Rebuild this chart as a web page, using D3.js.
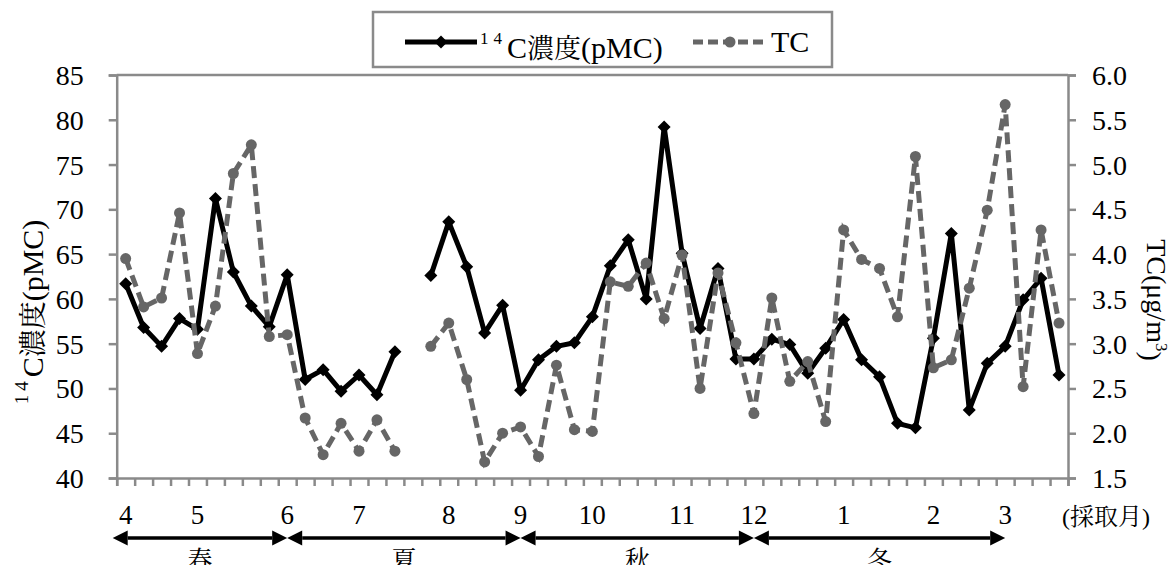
<!DOCTYPE html>
<html><head><meta charset="utf-8">
<script src="https://cdn.jsdelivr.net/npm/d3@7"></script>
<style>
body{margin:0;background:#fff;}
svg{display:block;}
text{font-family:"Liberation Serif","Noto Serif CJK JP","Noto Sans CJK JP",serif;fill:#000;}
</style></head>
<body>
<svg id="chart" width="1170" height="565"></svg>
<script>
// ---- data ----
const monthLabels = ["4","","","","5","","","","","6","","","","7","","","","","8","","","","9","","","","10","","","","","11","","","","12","","","","","1","","","","","2","","","","3","","",""];
const pmc = [61.7,56.8,54.7,57.8,56.6,71.2,63.0,59.2,56.9,62.7,51.0,52.1,49.7,51.5,49.3,54.1,null,62.6,68.6,63.6,56.2,59.3,49.8,53.2,54.7,55.1,58.0,63.7,66.6,60.0,79.2,65.1,56.7,63.4,53.3,53.3,55.5,54.9,51.7,54.5,57.7,53.2,51.3,46.1,45.6,55.6,67.3,47.6,52.8,54.7,59.9,62.3,51.5];
const tc = [3.95,3.41,3.51,4.46,2.89,3.42,4.90,5.22,3.08,3.10,2.17,1.76,2.11,1.80,2.15,1.80,null,2.97,3.23,2.60,1.68,2.00,2.07,1.74,2.76,2.04,2.02,3.69,3.64,3.90,3.28,3.99,2.50,3.79,3.01,2.22,3.51,2.58,2.80,2.13,4.27,3.94,3.84,3.30,5.09,2.73,2.82,3.62,4.49,5.67,2.52,4.27,3.23];
const leftTicks = [40,45,50,55,60,65,70,75,80,85];
const rightTicks = [1.5,2.0,2.5,3.0,3.5,4.0,4.5,5.0,5.5,6.0];
const seasons = ["春","夏","秋","冬"];
const seasonBounds = [0,9,22,35,49];

// ---- layout ----
const L = 116.7, R = 1068, T = 75, B = 478;
const svg = d3.select("#chart");
const idx = d3.range(monthLabels.length);
const x = d3.scaleBand().domain(idx).range([L, R]).padding(0);
const xc = i => x(i) + x.bandwidth()/2;
const xl = d3.scaleLinear().domain([0, monthLabels.length]).range([L, R]);
const yL = d3.scaleLinear().domain([40,85]).range([B, T]);
const yR = d3.scaleLinear().domain([1.5,6.0]).range([B, T]);
const axisColor = "#8a8a8a";

// frame top line
svg.append("line").attr("x1",L).attr("x2",R).attr("y1",T).attr("y2",T)
  .attr("stroke",axisColor).attr("stroke-width",2.5);

// left axis
const gL = svg.append("g").attr("transform",`translate(${L},0)`)
  .call(d3.axisLeft(yL).tickValues(leftTicks).tickSize(8).tickFormat(d3.format("d")));
// right axis
const gR = svg.append("g").attr("transform",`translate(${R},0)`)
  .call(d3.axisRight(yR).tickValues(rightTicks).tickSize(8).tickFormat(d3.format(".1f")));
// bottom tick marks (category boundaries)
const gB = svg.append("g").attr("transform",`translate(0,${B})`)
  .call(d3.axisBottom(xl).tickValues(d3.range(monthLabels.length+1)).tickSize(8).tickFormat(""));
// bottom labels
const gBL = svg.append("g").attr("transform",`translate(0,${B})`)
  .call(d3.axisBottom(x).tickSize(0).tickFormat(i => monthLabels[i]));
gBL.select(".domain").remove();

[gL,gR,gB].forEach(g=>{
  g.select(".domain").attr("stroke",axisColor).attr("stroke-width",2.5);
  g.selectAll(".tick line").attr("stroke",axisColor).attr("stroke-width",2.5);
});
gL.selectAll(".tick text").attr("x",-33).attr("dy","0.34em").style("font-size","28px")
  .style("font-family",'"Liberation Serif",serif');
gR.selectAll(".tick text").attr("x",24).attr("dy","0.34em").style("font-size","28px")
  .style("font-family",'"Liberation Serif",serif');
gBL.selectAll(".tick text").attr("y",46).attr("dy",0).style("font-size","27px")
  .style("font-family",'"Liberation Serif",serif');

svg.append("text").attr("x",1062).attr("y",525).style("font-size","24px").text("(採取月)");

// season arrows
const arrowY = 538;
const ah = 15, aw = 7.5;
const sx = i => i===0 ? L-4 : xc(seasonBounds[i]);
const ga = svg.append("g");
for (let s=0; s<seasons.length; s++){
  const x0 = sx(s), x1 = xc(seasonBounds[s+1]);
  ga.append("line").attr("x1",x0+ah).attr("x2",x1-ah).attr("y1",arrowY).attr("y2",arrowY)
    .attr("stroke","#000").attr("stroke-width",3.5);
  ga.append("path").attr("d",`M${x0},${arrowY}L${x0+ah},${arrowY-aw}L${x0+ah},${arrowY+aw}Z`).attr("fill","#000");
  ga.append("path").attr("d",`M${x1},${arrowY}L${x1-ah},${arrowY-aw}L${x1-ah},${arrowY+aw}Z`).attr("fill","#000");
  ga.append("text").attr("x",(x0+x1)/2).attr("y",569).attr("text-anchor","middle")
    .style("font-size","25px").text(seasons[s]);
}

// lines
const lineL = d3.line().defined(d=>d.v!=null).x(d=>xc(d.i)).y(d=>yL(d.v));
const lineR = d3.line().defined(d=>d.v!=null).x(d=>xc(d.i)).y(d=>yR(d.v));
const pd = pmc.map((v,i)=>({i,v}));
const td = tc.map((v,i)=>({i,v}));

svg.append("path").datum(pd).attr("d",lineL).attr("fill","none")
  .attr("stroke","#000").attr("stroke-width",5).attr("stroke-linejoin","round");
const dia = 6.5;
svg.append("g").selectAll("path").data(pd.filter(d=>d.v!=null)).join("path")
  .attr("d",d=>{const cx=xc(d.i), cy=yL(d.v); return `M${cx},${cy-dia}L${cx+dia},${cy}L${cx},${cy+dia}L${cx-dia},${cy}Z`;})
  .attr("fill","#000");

svg.append("path").datum(td).attr("d",lineR).attr("fill","none")
  .attr("stroke","#666").attr("stroke-width",5).attr("stroke-dasharray","12,6");
svg.append("g").selectAll("circle").data(td.filter(d=>d.v!=null)).join("circle")
  .attr("cx",d=>xc(d.i)).attr("cy",d=>yR(d.v)).attr("r",5.5).attr("fill","#666");

// axis titles
const tL = svg.append("text").attr("transform","translate(37,312) rotate(-90)")
  .attr("text-anchor","middle").style("font-size","30px");
tL.append("tspan").attr("dy","-0.5em").style("font-size","19px").style("letter-spacing","4px").text("14");
tL.append("tspan").attr("dy","0.5em").text("C");
tL.append("tspan").style("font-size","28px").text("濃度");
tL.append("tspan").text("(pMC)");

const tR = svg.append("text").attr("transform","translate(1147,300) rotate(90)")
  .attr("text-anchor","middle").style("font-size","28px");
tR.append("tspan").text("TC(μg/m");
tR.append("tspan").attr("dy","-0.5em").style("font-size","17px").text("3");
tR.append("tspan").attr("dy","0.5em").text(")");

// legend
svg.append("rect").attr("x",373).attr("y",12).attr("width",459).attr("height",55)
  .attr("fill","#fff").attr("stroke",axisColor).attr("stroke-width",2.5);
svg.append("line").attr("x1",405).attr("x2",477).attr("y1",42).attr("y2",42)
  .attr("stroke","#000").attr("stroke-width",5);
svg.append("path").attr("d",`M441,${42-dia}L${441+dia},42L441,${42+dia}L${441-dia},42Z`).attr("fill","#000");
const lt = svg.append("text").attr("x",480).attr("y",52).style("font-size","30px");
lt.append("tspan").attr("dy","-0.45em").style("font-size","17px").style("letter-spacing","5px").text("14");
lt.append("tspan").attr("dy","0.45em").text("C");
lt.append("tspan").style("font-size","27px").text("濃度");
lt.append("tspan").text("(pMC)");
svg.append("line").attr("x1",693).attr("x2",767).attr("y1",42).attr("y2",42)
  .attr("stroke","#666").attr("stroke-width",5).attr("stroke-dasharray","10,5");
svg.append("circle").attr("cx",730).attr("cy",42).attr("r",5.5).attr("fill","#666");
svg.append("text").attr("x",771).attr("y",52).style("font-size","30px").text("TC");
</script>
</body></html>
